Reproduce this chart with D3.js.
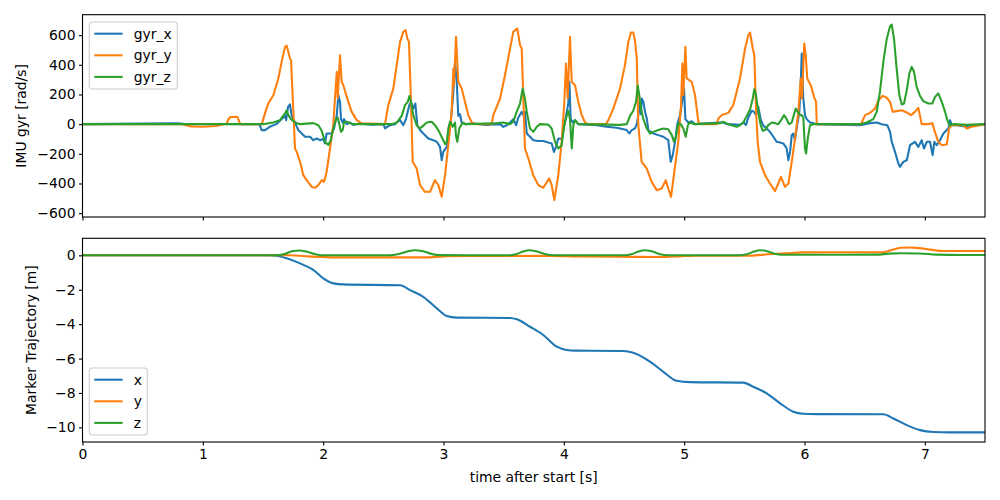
<!DOCTYPE html>
<html>
<head>
<meta charset="utf-8">
<script src="https://cdn.jsdelivr.net/npm/d3@7"></script>
<style>
  html, body { margin: 0; padding: 0; background: #fff; }
  svg { display: block; font-family: "DejaVu Sans", sans-serif; }
</style>
</head>
<body>
<svg id="chart" width="1000" height="500"></svg>
<script>
// ---------------- DATA ----------------
const xTicks = [0, 1, 2, 3, 4, 5, 6, 7];
const gyrTicks = [-600, -400, -200, 0, 200, 400, 600];
const trajTicks = [-10, -8, -6, -4, -2, 0];
const gyrNames = ["gyr_x", "gyr_y", "gyr_z"];
const trajNames = ["x", "y", "z"];

// [time s, rad/s]
const gyrX = [[0,0],[0.78,5],[0.84,3],[1.47,0],[1.489,-40],[1.517,-40],[1.556,-18],[1.611,0],[1.655,34],[1.683,56],[1.692,27],[1.708,117],[1.724,133],[1.737,61],[1.766,11],[1.793,-40],[1.822,-63],[1.849,-85],[1.891,-85],[1.918,-108],[1.946,-97],[1.974,-108],[2.001,-100],[2.015,-130],[2.029,-63],[2.071,-63],[2.090,-29],[2.113,61],[2.126,196],[2.140,150],[2.148,34],[2.162,11],[2.173,34],[2.196,0],[2.223,11],[2.25,-5],[2.30,5],[2.40,-3],[2.50,0],[2.514,-29],[2.555,-7],[2.597,0],[2.611,11],[2.639,27],[2.666,-7],[2.688,34],[2.716,128],[2.730,150],[2.749,105],[2.766,139],[2.782,-7],[2.805,-40],[2.832,-63],[2.874,-97],[2.915,-108],[2.944,-119],[2.971,-153],[2.985,-243],[2.998,-187],[3.027,-153],[3.040,-97],[3.060,11],[3.082,218],[3.096,420],[3.110,285],[3.123,56],[3.137,67],[3.151,11],[3.179,0],[3.25,5],[3.35,-5],[3.47,0],[3.497,-18],[3.525,-7],[3.553,11],[3.580,34],[3.603,-7],[3.622,45],[3.650,83],[3.663,61],[3.677,83],[3.692,-63],[3.719,-85],[3.746,-108],[3.788,-113],[3.829,-113],[3.871,-124],[3.899,-130],[3.918,-187],[3.935,-153],[3.954,-97],[3.982,-100],[4.004,-7],[4.024,83],[4.037,139],[4.046,285],[4.057,34],[4.074,11],[4.093,27],[4.12,0],[4.273,-7],[4.356,-18],[4.439,-24],[4.523,-40],[4.544,-63],[4.564,-40],[4.591,-29],[4.606,0],[4.619,61],[4.633,150],[4.641,67],[4.647,173],[4.661,150],[4.675,83],[4.689,40],[4.702,-40],[4.744,-63],[4.785,-74],[4.827,-85],[4.868,-108],[4.888,-254],[4.905,-209],[4.924,-119],[4.943,0],[4.966,61],[4.985,161],[4.999,240],[5.010,34],[5.035,11],[5.063,20],[5.09,0],[5.298,11],[5.325,11],[5.354,0],[5.464,-5],[5.492,11],[5.514,-5],[5.533,45],[5.561,90],[5.581,83],[5.597,61],[5.616,117],[5.636,30],[5.658,-10],[5.686,-29],[5.713,-52],[5.741,-85],[5.769,-119],[5.797,-124],[5.824,-130],[5.852,-164],[5.866,-243],[5.880,-187],[5.894,-74],[5.907,-63],[5.921,-108],[5.935,-29],[5.957,83],[5.969,285],[5.977,476],[5.990,173],[6.004,61],[6.018,34],[6.046,11],[6.073,7],[6.10,0],[6.462,-7],[6.503,0],[6.545,7],[6.600,11],[6.642,0],[6.688,-7],[6.711,-52],[6.725,-119],[6.752,-187],[6.780,-265],[6.794,-288],[6.821,-254],[6.850,-243],[6.877,-142],[6.918,-119],[6.946,-153],[6.974,-108],[6.993,-164],[7.016,-119],[7.043,-119],[7.065,-209],[7.079,-119],[7.099,-142],[7.126,-108],[7.154,-63],[7.182,-40],[7.196,-30],[7.209,27],[7.224,-7],[7.265,-7],[7.348,-18],[7.403,-7],[7.5,0]];

const gyrY = [[0,0],[0.83,0],[0.9,-15],[1.0,-18],[1.11,-12],[1.2,5],[1.21,30],[1.23,48],[1.28,50],[1.29,45],[1.31,0],[1.49,0],[1.52,83],[1.544,140],[1.586,195],[1.627,308],[1.655,420],[1.683,521],[1.697,530],[1.710,488],[1.724,443],[1.733,431],[1.766,-164],[1.780,-187],[1.808,-254],[1.835,-344],[1.863,-378],[1.905,-423],[1.932,-429],[1.960,-411],[1.988,-378],[2.007,-389],[2.029,-321],[2.057,-164],[2.084,-7],[2.098,173],[2.113,353],[2.121,175],[2.140,465],[2.154,285],[2.167,263],[2.209,150],[2.237,83],[2.279,27],[2.320,5],[2.514,0],[2.541,128],[2.583,240],[2.611,398],[2.639,555],[2.666,622],[2.686,634],[2.699,578],[2.713,555],[2.730,150],[2.744,-254],[2.777,-299],[2.805,-411],[2.846,-456],[2.888,-456],[2.929,-378],[2.957,-411],[2.985,-490],[3.013,-344],[3.040,-142],[3.068,83],[3.082,375],[3.087,263],[3.104,589],[3.123,285],[3.151,240],[3.179,150],[3.206,61],[3.234,13],[3.26,0],[3.40,0],[3.414,61],[3.470,173],[3.511,330],[3.553,510],[3.580,622],[3.613,645],[3.636,533],[3.650,510],[3.677,-164],[3.705,-231],[3.746,-344],[3.788,-411],[3.829,-429],[3.879,-366],[3.899,-411],[3.921,-512],[3.954,-344],[3.982,-119],[4.004,150],[4.018,409],[4.032,173],[4.051,589],[4.066,285],[4.093,263],[4.120,150],[4.149,61],[4.176,11],[4.2,0],[4.35,0],[4.370,27],[4.411,105],[4.467,240],[4.508,398],[4.536,555],[4.558,618],[4.577,618],[4.591,566],[4.606,443],[4.619,-7],[4.647,-254],[4.689,-299],[4.730,-389],[4.772,-445],[4.813,-434],[4.847,-378],[4.868,-434],[4.891,-490],[4.918,-321],[4.951,-119],[4.974,128],[4.985,409],[4.993,196],[5.010,521],[5.021,308],[5.063,285],[5.090,196],[5.118,16],[5.14,0],[5.27,0],[5.284,38],[5.312,61],[5.367,76],[5.408,128],[5.464,308],[5.506,510],[5.533,600],[5.548,618],[5.570,510],[5.583,465],[5.597,105],[5.611,-119],[5.630,-254],[5.672,-344],[5.713,-400],[5.755,-452],[5.782,-400],[5.805,-355],[5.838,-423],[5.866,-400],[5.894,-254],[5.921,-97],[5.949,83],[5.969,308],[5.979,173],[5.998,544],[6.010,465],[6.023,308],[6.052,263],[6.079,184],[6.096,150],[6.102,0],[6.47,0],[6.503,61],[6.545,76],[6.586,105],[6.614,161],[6.650,191],[6.683,178],[6.711,150],[6.733,83],[6.766,88],[6.808,94],[6.850,79],[6.885,61],[6.918,83],[6.946,110],[6.974,0],[7.001,0],[7.029,0],[7.062,7],[7.085,-56],[7.112,-119],[7.141,-142],[7.182,-137],[7.202,-29],[7.224,-7],[7.320,-7],[7.348,-29],[7.390,-18],[7.459,-7],[7.5,0]];

const gyrZ = [[0,0],[1.5,0],[1.586,11],[1.641,27],[1.683,72],[1.697,94],[1.710,61],[1.733,34],[1.766,11],[1.808,0],[1.918,7],[1.960,-7],[1.988,-45],[2.015,-119],[2.043,-140],[2.063,-108],[2.084,-29],[2.107,34],[2.121,45],[2.134,0],[2.148,-52],[2.162,-40],[2.173,11],[2.196,16],[2.223,7],[2.25,0],[2.57,0],[2.611,11],[2.653,56],[2.680,128],[2.703,150],[2.716,190],[2.730,150],[2.749,61],[2.777,-7],[2.805,-29],[2.832,-10],[2.861,11],[2.902,16],[2.929,-7],[2.957,-40],[2.993,-100],[3.013,-135],[3.027,-119],[3.040,-30],[3.054,16],[3.068,0],[3.077,-18],[3.096,11],[3.104,-80],[3.115,-119],[3.131,-29],[3.151,0],[3.165,11],[3.18,0],[3.414,5],[3.497,11],[3.553,0],[3.580,16],[3.608,83],[3.636,139],[3.658,240],[3.677,170],[3.692,83],[3.719,-29],[3.746,-52],[3.775,-18],[3.802,0],[3.871,-3],[3.899,-29],[3.927,-119],[3.954,-164],[3.982,-142],[4.004,-7],[4.024,56],[4.037,90],[4.051,34],[4.066,-164],[4.079,-7],[4.093,27],[4.12,0],[4.467,-5],[4.523,0],[4.550,56],[4.577,90],[4.600,150],[4.614,260],[4.627,196],[4.641,105],[4.661,34],[4.689,-29],[4.716,-63],[4.744,-52],[4.785,-40],[4.827,-29],[4.868,-35],[4.897,-74],[4.916,-119],[4.932,-85],[4.951,7],[4.971,0],[4.993,-29],[5.013,-85],[5.030,-10],[5.043,11],[5.09,0],[5.298,7],[5.325,16],[5.354,5],[5.395,-7],[5.437,-18],[5.464,-7],[5.492,11],[5.520,56],[5.548,100],[5.570,173],[5.583,236],[5.597,196],[5.616,83],[5.636,-7],[5.653,-45],[5.672,-40],[5.699,-7],[5.728,11],[5.755,7],[5.782,0],[5.811,34],[5.830,61],[5.852,34],[5.871,0],[5.894,11],[5.913,67],[5.927,105],[5.944,83],[5.963,61],[5.977,61],[5.990,45],[6.004,-164],[6.013,-198],[6.027,-97],[6.046,-7],[6.073,0],[6.462,0],[6.517,11],[6.572,34],[6.600,83],[6.627,218],[6.655,420],[6.683,573],[6.711,660],[6.725,672],[6.744,573],[6.766,373],[6.788,196],[6.808,133],[6.827,139],[6.850,230],[6.871,341],[6.891,386],[6.910,353],[6.932,251],[6.960,190],[6.987,155],[7.029,139],[7.062,139],[7.085,184],[7.112,207],[7.141,150],[7.168,83],[7.187,27],[7.204,-7],[7.237,0],[7.348,-5],[7.5,0]];

// [time s, metres]
const trajX = [[0,0],[1.55,0],[1.61,-0.02],[1.697,-0.17],[1.808,-0.47],[1.918,-0.85],[2.001,-1.34],[2.084,-1.63],[2.167,-1.69],[2.639,-1.74],[2.722,-2.02],[2.832,-2.41],[2.944,-3.08],[3.027,-3.53],[3.110,-3.62],[3.553,-3.64],[3.610,-3.72],[3.719,-4.15],[3.829,-4.63],[3.941,-5.31],[4.024,-5.5],[4.1,-5.54],[4.494,-5.56],[4.577,-5.66],[4.716,-6.18],[4.827,-6.77],[4.938,-7.29],[5.049,-7.37],[5.492,-7.4],[5.575,-7.64],[5.686,-8.02],[5.797,-8.6],[5.907,-9.09],[5.990,-9.21],[6.1,-9.23],[6.655,-9.24],[6.738,-9.48],[6.850,-9.87],[6.960,-10.16],[7.071,-10.27],[7.2,-10.29],[7.5,-10.29]];
const trajY = [[0,0],[1.72,0],[1.85,-0.05],[2.0,-0.1],[2.1,-0.12],[2.85,-0.12],[3.0,-0.06],[3.2,-0.04],[3.9,-0.03],[4.1,-0.06],[4.55,-0.09],[4.85,-0.1],[4.98,-0.05],[5.1,-0.02],[5.55,-0.02],[5.7,0.06],[5.85,0.12],[5.98,0.17],[6.65,0.18],[6.72,0.3],[6.8,0.44],[6.88,0.46],[6.95,0.42],[7.05,0.33],[7.15,0.25],[7.5,0.25]];
const trajZ = [[0,0],[1.6,0],[1.68,0.08],[1.75,0.25],[1.8,0.28],[1.86,0.22],[1.94,0.06],[2.0,0],[2.55,0],[2.62,0.06],[2.7,0.22],[2.76,0.3],[2.83,0.24],[2.9,0.08],[2.97,0.01],[3.55,0],[3.6,0.06],[3.66,0.22],[3.71,0.3],[3.77,0.24],[3.85,0.06],[3.92,0],[4.5,0],[4.56,0.06],[4.62,0.22],[4.67,0.3],[4.73,0.24],[4.8,0.06],[4.87,0],[5.45,0],[5.52,0.06],[5.58,0.22],[5.63,0.3],[5.69,0.24],[5.76,0.08],[5.85,0.03],[6.0,0.03],[6.6,0.04],[6.7,0.1],[6.8,0.12],[6.95,0.11],[7.1,0.04],[7.3,0.02],[7.5,0.02]];

// ---------------- DRAW ----------------
const colors = ["#1f77b4", "#ff7f0e", "#2ca02c"];
const svg = d3.select("#chart");
const fs = 13.9;
const left = 82.5, right = 985;
const x = d3.scaleLinear().domain([0, 7.5]).range([left, right]);
const yTop = d3.scaleLinear().domain([-626, 738]).range([217, 14.7]);
const yBot = d3.scaleLinear().domain([-10.85, 0.99]).range([442, 238.3]);

function panel(yScale, ticks, series, names, curve, showXLabels, legendPos, ylabel, ylabelX, clipId) {
  const [y0, y1] = yScale.range();
  svg.append("clipPath").attr("id", clipId).append("rect")
    .attr("x", left).attr("y", y1).attr("width", right - left).attr("height", y0 - y1);
  const g = svg.append("g");
  const line = d3.line().x(d => x(d[0])).y(d => yScale(d[1])).curve(curve);
  series.forEach((s, i) => {
    g.append("path").datum(s).attr("d", line)
      .attr("fill", "none").attr("stroke", colors[i]).attr("stroke-width", 2.08)
      .attr("stroke-linejoin", "round").attr("stroke-linecap", "butt")
      .attr("clip-path", `url(#${clipId})`);
  });
  // axes
  const ax = d3.axisBottom(x).tickValues(xTicks).tickSize(3.5).tickPadding(3.5)
    .tickFormat(showXLabels ? d3.format("d") : () => "");
  const axG = svg.append("g").attr("transform", `translate(0,${y0})`).call(ax);
  const ay = d3.axisLeft(yScale).tickValues(ticks).tickSize(3.5).tickPadding(3.5)
    .tickFormat(d => (d < 0 ? "\u2212" + Math.abs(d) : String(d)));
  const ayG = svg.append("g").attr("transform", `translate(${left},0)`).call(ay);
  [axG, ayG].forEach(a => {
    a.select(".domain").remove();
    a.selectAll(".tick line").attr("stroke", "#000").attr("stroke-width", 1.1);
    a.selectAll(".tick text").attr("fill", "#000").style("font-size", fs + "px")
      .style("font-family", "DejaVu Sans");
  });
  // frame
  svg.append("rect").attr("x", left).attr("y", y1).attr("width", right - left).attr("height", y0 - y1)
    .attr("fill", "none").attr("stroke", "#000").attr("stroke-width", 1.1);
  // y label
  svg.append("text").attr("transform", `translate(${ylabelX},${(y0 + y1) / 2}) rotate(-90)`)
    .attr("text-anchor", "middle").attr("dominant-baseline", "central")
    .style("font-size", fs + "px").text(ylabel);
  // legend
  const lg = svg.append("g").attr("transform", `translate(${legendPos[0]},${legendPos[1]})`);
  lg.append("rect").attr("x", 0).attr("y", 0).attr("width", legendPos[2]).attr("height", 67)
    .attr("rx", 2.8).attr("fill", "#fff").attr("fill-opacity", 0.8)
    .attr("stroke", "#cccccc").attr("stroke-width", 1.1);
  names.forEach((n, i) => {
    const yy = 11.7 + i * 21.6;
    lg.append("line").attr("x1", 5).attr("x2", 33.3).attr("y1", yy).attr("y2", yy)
      .attr("stroke", colors[i]).attr("stroke-width", 2.08);
    lg.append("text").attr("x", 44.5).attr("y", yy).attr("dominant-baseline", "central")
      .style("font-size", fs + "px").text(n);
  });
}

panel(yTop, gyrTicks, [gyrX, gyrY, gyrZ], gyrNames, d3.curveLinear, false,
  [89.3, 22, 88], "IMU gyr [rad/s]", 21, "clipTop");
panel(yBot, trajTicks, [trajX, trajY, trajZ], trajNames, d3.curveMonotoneX, true,
  [89.3, 368, 58], "Marker Trajectory [m]", 31, "clipBot");

svg.append("text").attr("x", (left + right) / 2).attr("y", 477)
  .attr("text-anchor", "middle").attr("dominant-baseline", "central")
  .style("font-size", fs + "px").text("time after start [s]");
</script>
</body>
</html>
